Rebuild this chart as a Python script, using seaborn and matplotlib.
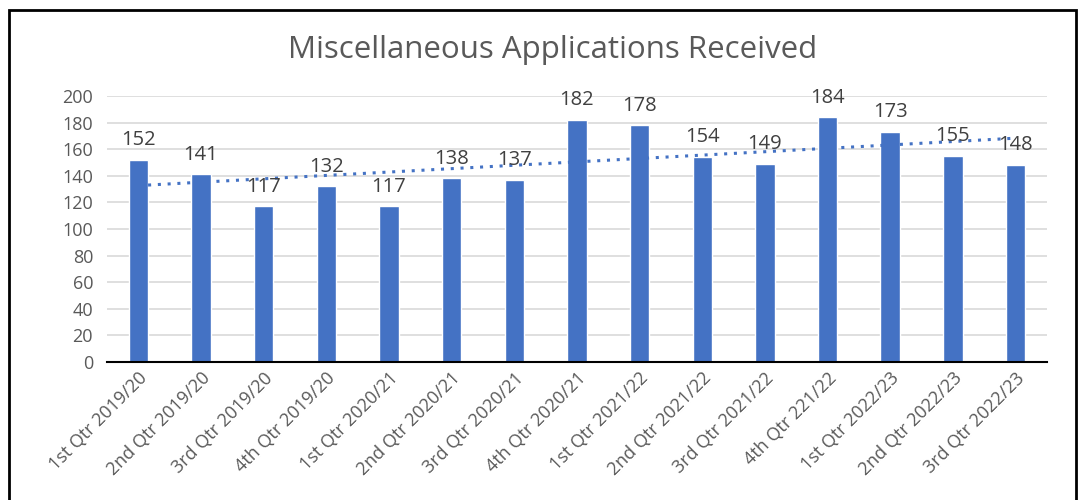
import numpy as np
import pandas as pd
import matplotlib
matplotlib.use("Agg")
import matplotlib.pyplot as plt
import seaborn as sns
from matplotlib.patches import Rectangle

# Quarterly counts
quarters = ["1st Qtr 2019/20", "2nd Qtr 2019/20", "3rd Qtr 2019/20", "4th Qtr 2019/20",
            "1st Qtr 2020/21", "2nd Qtr 2020/21", "3rd Qtr 2020/21", "4th Qtr 2020/21",
            "1st Qtr 2021/22", "2nd Qtr 2021/22", "3rd Qtr 2021/22", "4th Qtr 221/22",
            "1st Qtr 2022/23", "2nd Qtr 2022/23", "3rd Qtr 2022/23"]
received = [152, 141, 117, 132, 117, 138, 137, 182, 178, 154, 149, 184, 173, 155, 148]

BAR_COLOR = "#4472C4"
TEXT_COLOR = "#595959"

sns.set_style("white")
plt.rcParams["font.family"] = ["Open Sans", "DejaVu Sans"]

df = pd.DataFrame({"quarter": quarters, "received": received})

fig = plt.figure(figsize=(10.84, 5.0), dpi=100)
ax = fig.add_axes([0.0987, 0.276, 0.867, 0.532])

sns.barplot(data=df, x="quarter", y="received", color=BAR_COLOR, width=0.31,
            saturation=1, ax=ax, zorder=2)

# linear trendline (dotted), like the spreadsheet one
xs = np.arange(len(received))
slope, intercept = np.polyfit(xs, received, 1)
ax.plot(xs, slope * xs + intercept, linestyle=(0, (1, 2.2)), color=BAR_COLOR,
        linewidth=2.2, zorder=3)

# value labels above bars
for i, v in enumerate(received):
    ax.annotate(str(v), (i, v), xytext=(0, 7), textcoords="offset points",
                ha="center", va="bottom", fontsize=14.5, color="#404040", zorder=4)

ax.set_ylim(0, 200)
ax.set_xlim(-0.5, len(received) - 0.5)
ax.set_yticks(range(0, 201, 20))
ax.yaxis.grid(True, color="#D9D9D9", linewidth=1.2, zorder=0)
ax.set_axisbelow(True)
for side in ["top", "right", "left"]:
    ax.spines[side].set_visible(False)
ax.spines["bottom"].set_color("#000000")
ax.spines["bottom"].set_linewidth(1.5)
ax.tick_params(axis="both", length=0, labelsize=13, colors=TEXT_COLOR, pad=10)
ax.tick_params(axis="x", pad=5)
plt.setp(ax.get_xticklabels(), rotation=45, ha="right", rotation_mode="anchor")
ax.set_xlabel("")
ax.set_ylabel("")

fig.text(0.51, 0.90, "Miscellaneous Applications Received", ha="center", va="center",
         fontsize=22.5, color=TEXT_COLOR)

# outer black frame
fig.patches.append(Rectangle((0.008, -0.01), 0.985, 0.99, transform=fig.transFigure,
                             fill=False, edgecolor="black", linewidth=2))

fig.savefig("out.png", dpi=100)
